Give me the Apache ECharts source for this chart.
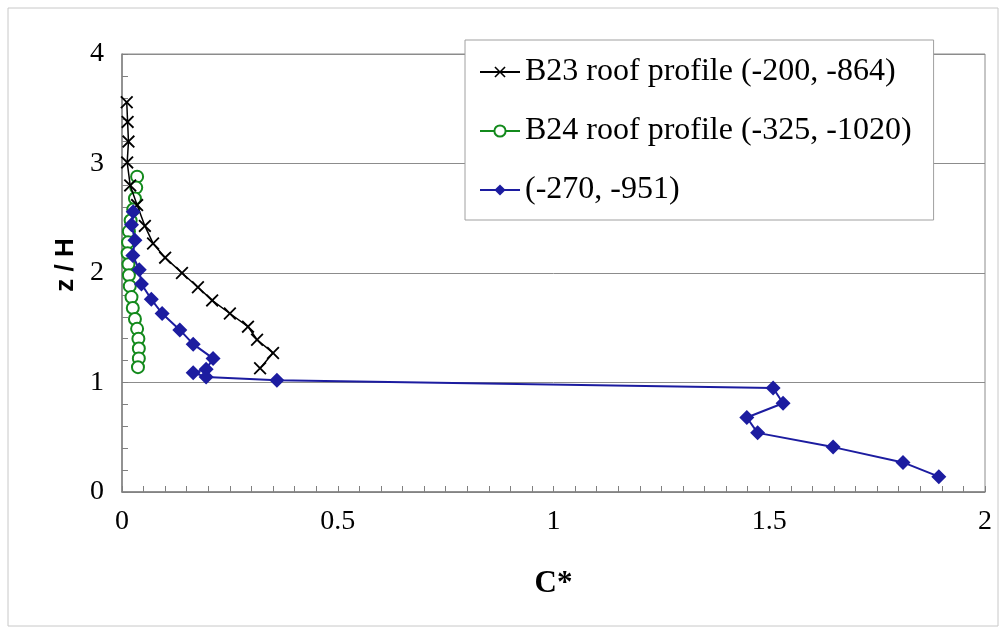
<!DOCTYPE html>
<html>
<head>
<meta charset="utf-8">
<script src="https://cdn.jsdelivr.net/npm/echarts@6/dist/echarts.min.js"></script>
<style>
html, body { margin: 0; padding: 0; background: #fff; }
#chart { width: 1004px; height: 632px; }
</style>
</head>
<body>
<div id="chart"></div>
<script>
// B23 roof profile (C*, z/H)
var b23C = [0.011, 0.013, 0.015, 0.012, 0.019, 0.035, 0.053, 0.072, 0.100, 0.139, 0.176, 0.209, 0.250, 0.292, 0.313, 0.350, 0.320];
var b23Z = [3.56, 3.38, 3.20, 3.01, 2.80, 2.62, 2.43, 2.27, 2.14, 2.00, 1.87, 1.75, 1.63, 1.51, 1.39, 1.27, 1.13];
// B24 roof profile
var b24C = [0.035, 0.033, 0.030, 0.026, 0.020, 0.016, 0.014, 0.013, 0.015, 0.016, 0.018, 0.022, 0.025, 0.030, 0.035, 0.038, 0.039, 0.039, 0.037];
var b24Z = [2.88, 2.78, 2.68, 2.58, 2.48, 2.38, 2.28, 2.18, 2.08, 1.98, 1.88, 1.78, 1.68, 1.58, 1.49, 1.40, 1.31, 1.22, 1.14];
// (-270, -951)
var ptC = [0.026, 0.022, 0.030, 0.025, 0.040, 0.045, 0.068, 0.093, 0.134, 0.165, 0.211, 0.195, 0.165, 0.195, 0.359, 1.509, 1.532, 1.448, 1.473, 1.648, 1.810, 1.893];
var ptZ = [2.56, 2.44, 2.30, 2.16, 2.03, 1.90, 1.76, 1.63, 1.48, 1.35, 1.22, 1.12, 1.09, 1.05, 1.02, 0.95, 0.81, 0.68, 0.54, 0.41, 0.27, 0.14];

var names = ['B23 roof profile (-200, -864)', 'B24 roof profile (-325, -1020)', '(-270, -951)'];

function pairs(xs, ys) {
    var out = [];
    for (var i = 0; i < xs.length; i++) out.push([xs[i], ys[i]]);
    return out;
}

var crossPath = 'path://M0,1L1,0L5,4L9,0L10,1L6,5L10,9L9,10L5,6L1,10L0,9L4,5Z';
var serif = "'Liberation Serif', 'DejaVu Serif', serif";

var chart = echarts.init(document.getElementById('chart'));
var option = {
    backgroundColor: '#fff',
    animation: false,
    graphic: [{
        type: 'rect',
        shape: { x: 8, y: 8, width: 990, height: 618 },
        style: { fill: 'none', stroke: '#c8c8c8', lineWidth: 1 },
        z: -1
    }],
    grid: {
        left: 122, top: 54, right: 19, bottom: 140,
        show: true, borderColor: '#8c8c8c', borderWidth: 1
    },
    legend: {
        orient: 'vertical',
        left: 465, top: 40,
        padding: [16, 22, 14, 14],
        itemGap: 27,
        itemWidth: 40,
        itemHeight: 14,
        backgroundColor: '#fff',
        borderColor: '#a0a0a0',
        borderWidth: 1,
        textStyle: { fontFamily: serif, fontSize: 32, color: '#000' },
        data: names
    },
    xAxis: {
        type: 'value',
        min: 0, max: 2, interval: 0.5,
        name: 'C*',
        nameLocation: 'middle',
        nameGap: 76,
        nameTextStyle: { fontFamily: serif, fontSize: 31, fontWeight: 'bold', color: '#000' },
        axisLine: { lineStyle: { color: '#808080', width: 1.5 } },
        axisTick: { inside: true, length: 6, lineStyle: { color: '#808080' } },
        minorTick: { show: true, splitNumber: 10, length: 6, lineStyle: { color: '#808080' } },
        axisLabel: { fontFamily: serif, fontSize: 28, color: '#000', margin: 16 },
        splitLine: { show: false }
    },
    yAxis: {
        type: 'value',
        min: 0, max: 4, interval: 1,
        name: 'z / H',
        nameLocation: 'middle',
        nameGap: 34,
        nameTextStyle: { fontFamily: "'Liberation Sans', Arial, sans-serif", fontSize: 26, fontWeight: 'bold', color: '#000', padding: [0, 0, 0, 16] },
        axisLine: { show: true, lineStyle: { color: '#808080', width: 1.5 } },
        axisTick: { show: true, inside: true, length: 6, lineStyle: { color: '#808080' } },
        minorTick: { show: true, splitNumber: 5, length: 6, lineStyle: { color: '#808080' } },
        axisLabel: { fontFamily: serif, fontSize: 28, color: '#000', margin: 18 },
        splitLine: { show: true, lineStyle: { color: '#8c8c8c', width: 1 } }
    },
    series: [
        {
            name: names[0],
            type: 'line',
            data: pairs(b23C, b23Z),
            symbol: crossPath,
            symbolSize: 13,
            lineStyle: { color: '#000', width: 1.5 },
            itemStyle: { color: '#000' },
            z: 3
        },
        {
            name: names[1],
            type: 'line',
            data: pairs(b24C, b24Z),
            symbol: 'emptyCircle',
            symbolSize: 12,
            lineStyle: { color: '#138a1c', width: 1.5 },
            itemStyle: { color: '#138a1c', borderWidth: 1.5 },
            z: 2
        },
        {
            name: names[2],
            type: 'line',
            data: pairs(ptC, ptZ),
            symbol: 'diamond',
            symbolSize: 15,
            lineStyle: { color: '#1c1ca0', width: 2 },
            itemStyle: { color: '#1c1ca0' },
            z: 4
        }
    ]
};
option && chart.setOption(option);
</script>
</body>
</html>
